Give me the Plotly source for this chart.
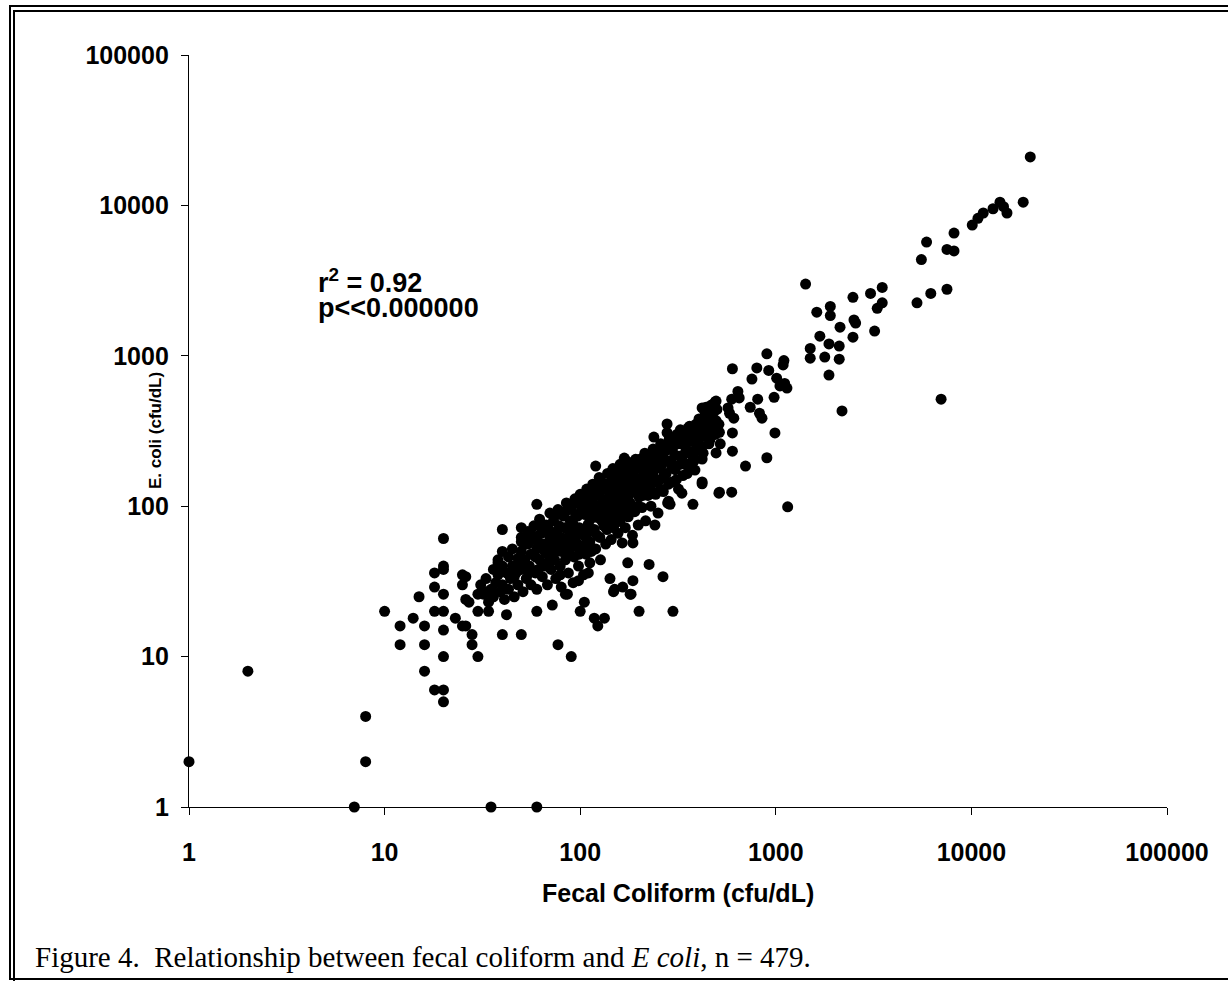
import plotly.graph_objects as go

# ---------------- data (Fecal coliform, E. coli; cfu/dL) ----------------
# low / left scattered points
fc_low = [1, 2, 7, 8, 8, 35, 60,
          10, 12, 12, 14, 15, 16, 16, 16, 18, 18, 18, 18,
          20, 20, 20, 20, 20, 20, 20, 20, 20,
          25, 25, 26, 27, 23, 25, 28, 28, 30, 30, 30,
          40, 50, 77, 90, 123, 118, 133, 100, 105, 200, 298,
          180, 186, 148, 265, 225, 175, 142, 72, 84, 60, 42, 34, 26]
ec_low = [2, 8, 1, 4, 2, 1, 1,
          20, 16, 12, 18, 25, 16, 12, 8, 36, 29, 20, 6,
          61, 40, 38, 26, 20, 15, 10, 6, 5,
          35, 30, 24, 23, 18, 16, 14, 12, 10, 20, 26,
          14, 14, 12, 10, 16, 18, 18, 20, 23, 20, 20,
          26, 32, 27, 34, 41, 42, 33, 22, 26, 20, 19, 20, 16]

# points around the edge of the main cloud
fc_edge = [60, 40, 50, 55, 50, 40, 26, 33, 38,
           120, 168, 238, 278, 278, 356, 325, 420, 490, 445, 460, 420, 377,
           340, 386, 420, 512, 377, 331, 288, 283, 241, 150, 182, 165, 110,
           86, 98, 186, 164]
ec_edge = [103, 70, 72, 61, 58, 50, 34, 27, 42,
           185, 209, 288, 352, 308, 331, 322, 450, 493, 357, 275, 206, 226,
           191, 174, 145, 122, 103, 122, 103, 108, 75, 28, 26, 29, 36,
           26, 32, 57, 57]

# dense central cloud
fc_core = [31, 32, 33, 34, 35, 36, 36, 37,
           38, 38, 39, 40, 40, 41, 42, 43, 43, 44, 45, 45, 46,
           47, 48, 48, 50, 50, 50, 51, 52, 53, 54, 54, 55, 56, 56,
           58, 58, 59, 60, 60, 62, 62, 63, 64, 65, 66, 67, 68, 68,
           70, 70, 71, 72, 73, 74, 75, 76, 77, 78, 79, 80, 80,
           82, 83, 84, 85, 86, 87, 88, 89, 90, 91, 92, 93, 94, 95,
           97, 98, 99, 100, 101, 102, 104, 105, 106, 107, 108, 110, 111, 112, 112,
           115, 116, 118, 120, 121, 123, 125, 126, 127, 128, 130, 132, 134, 135,
           138, 139, 140, 142, 144, 145, 147, 148, 150, 152, 154, 156, 158, 160, 160,
           163, 165, 167, 170, 172, 174, 176, 178, 180, 183, 185, 187, 190, 192, 195, 198, 200,
           204, 207, 210, 214, 216, 220, 222, 226, 230, 233, 236, 240, 243, 247, 250,
           255, 258, 262, 266, 270, 275, 280, 285, 290, 295, 300, 306, 312, 318, 322, 328,
           335, 342, 348, 355, 362, 370, 378, 385, 395, 405, 412, 425, 435, 445, 455,
           468, 478, 490, 500, 512, 520]
ec_core = [30, 26, 33, 23, 28, 38, 25, 31,
           44, 35, 27, 40, 30, 24, 36, 46, 28, 33, 52, 40, 25,
           36, 45, 30, 62, 50, 38, 27, 44, 33, 68, 56, 40, 30, 48,
           74, 60, 36, 52, 28, 82, 44, 66, 34, 56, 40, 75, 30, 48,
           90, 62, 38, 54, 80, 44, 33, 68, 95, 58, 40, 50, 29,
           86, 72, 44, 105, 60, 36, 52, 80, 95, 66, 31, 46, 112, 58,
           86, 40, 72, 120, 54, 100, 35, 64, 88, 48, 130, 76, 110, 42, 58,
           96, 140, 70, 52, 118, 84, 155, 62, 44, 102, 130, 74, 90, 56,
           165, 112, 80, 140, 60, 100, 178, 72, 125, 88, 150, 66, 108, 190, 80,
           132, 96, 162, 72, 115, 198, 85, 140, 105, 170, 64, 125, 92, 205, 150, 75, 115,
           180, 98, 135, 225, 80, 160, 118, 195, 100, 145, 240, 175, 120, 210, 90,
           150, 260, 190, 125, 230, 165, 105, 280, 200, 145, 250, 175, 300, 130, 215, 260,
           160, 300, 240, 190, 340, 270, 210, 320, 250, 380, 290, 225, 420, 330, 260,
           470, 380, 300, 440, 350, 260]

# more points inside the dense cloud
fc_core2 = [46, 49, 52, 55, 57, 59, 61, 61,
            64, 66, 69, 69, 72, 74, 75, 78, 79, 80,
            83, 84, 86, 88, 90, 92, 93, 95, 96, 98, 99,
            101, 103, 104, 106, 108, 109, 111, 113, 114, 117, 119, 120, 122, 124, 125,
            128, 129, 131, 133, 136, 137, 141, 143, 146, 149, 151, 153, 155, 157, 159,
            162, 164, 166, 169, 171, 173, 177, 179, 181, 184, 188, 191, 194, 197, 199,
            202, 206, 209, 212, 218, 221, 224, 228, 232, 235, 239, 244, 249, 252, 257,
            263, 268, 272, 278, 283, 288, 294, 298, 304, 310, 316, 324, 330, 338,
            345, 352, 360, 368, 375, 382, 390, 400, 410, 420, 430, 440, 452, 465, 480, 495]
ec_core2 = [34, 42, 56, 36, 64, 46, 58, 38,
            72, 50, 42, 70, 60, 86, 50, 74, 35, 62,
            56, 92, 48, 68, 102, 76, 54, 86, 64, 104, 48,
            92, 70, 112, 56, 96, 66, 124, 82, 50, 104, 88, 128, 64, 98, 120,
            146, 80, 110, 96, 140, 70, 122, 92, 155, 112, 140, 78, 172, 124, 96,
            150, 110, 182, 130, 88, 160, 118, 185, 145, 98, 160, 128, 180, 100, 140,
            205, 155, 118, 190, 140, 205, 175, 130, 220, 160, 200, 145, 235, 180, 130,
            220, 160, 250, 200, 140, 240, 180, 280, 220, 150, 260, 190, 290, 220,
            270, 165, 300, 230, 290, 200, 350, 270, 320, 250, 360, 300, 400, 330, 420, 370]

# upper band
fc_high = [2180, 1870, 1500, 1500, 1680, 1870, 1780, 2110, 2110, 1620, 1900, 1900,
           2130, 2510, 2560, 2480, 3200, 3300, 3500, 2480, 600, 900, 1100, 1090,
           800, 755, 920, 1010, 1050, 1140, 980, 808, 740, 825, 850, 990, 900, 700,
           600, 495, 515, 595, 420, 595, 640, 650, 495, 440, 570, 580, 610, 440,
           460, 475, 515, 600, 495, 450, 1110, 1420, 1150,
           20000, 18400, 15200, 14000, 14600, 12900, 11500, 10800, 10100, 8150,
           7500, 8150, 5900, 5550, 5270, 6200, 7500, 7000, 3050, 3500]
ec_high = [430, 745, 965, 1120, 1350, 1200, 980, 1160, 950, 1950, 2130, 1850,
           1550, 1730, 1650, 1330, 1460, 2070, 2250, 2450, 820, 1030, 930, 870,
           830, 700, 800, 710, 630, 610, 530, 515, 455, 415, 385, 307, 210, 185,
           232, 226, 124, 124, 141, 515, 580, 525, 500, 455, 450, 415, 385, 385,
           330, 307, 310, 307, 330, 288, 655, 3000, 99,
           21000, 10500, 8900, 10500, 9800, 9500, 8900, 8200, 7400, 6550,
           5100, 4980, 5700, 4360, 2250, 2600, 2770, 515, 2600, 2850]

tick_vals = [1, 10, 100, 1000, 10000, 100000]
tick_text = ["1", "10", "100", "1000", "10000", "100000"]

fc = fc_low + fc_edge + fc_core + fc_core2 + fc_high
ec = ec_low + ec_edge + ec_core + ec_core2 + ec_high

# ---------------- figure ----------------
W, H = 1228, 981
L, R, T, B = 189, 1167, 55, 807   # plot-area pixel box


def px(x):
    return (x - L) / (R - L)


def py(y):
    return (B - y) / (B - T)


SANS = "Liberation Sans, Arial, sans-serif"
SERIF = "Liberation Serif, Times New Roman, serif"

fig = go.Figure(go.Scatter(
    x=fc, y=ec, mode="markers",
    marker=dict(color="black", size=11, line=dict(width=0)),
    cliponaxis=False, showlegend=False, hoverinfo="skip",
))

axis_common = dict(
    type="log", range=[0, 5], tickvals=tick_vals, ticktext=tick_text,
    showgrid=False, zeroline=False, showline=True, linecolor="black",
    linewidth=1.3, ticks="outside", ticklen=7, tickwidth=1.3, tickcolor="black",
    tickfont=dict(family=SANS, size=25, color="black", weight="bold"),
    mirror=False,
)

fig.update_xaxes(**axis_common, ticklabelstandoff=16)
fig.update_yaxes(**axis_common, ticklabelstandoff=7)

annotations = [
    dict(text="r<sup>2</sup> = 0.92", x=px(316), y=py(300), xanchor="left", yanchor="bottom",
         font=dict(family=SANS, size=27, color="black", weight="bold")),
    dict(text="p<<0.000000", x=px(316), y=py(291), xanchor="left", yanchor="top",
         font=dict(family=SANS, size=27, color="black", weight="bold")),
    dict(text="Fecal Coliform (cfu/dL)", x=0.5, y=py(893), xanchor="center", yanchor="middle",
         font=dict(family=SANS, size=25, color="black", weight="bold")),
    dict(text="E. coli (cfu/dL)", x=px(155), y=py(431), xanchor="center", yanchor="middle",
         textangle=-90, font=dict(family=SANS, size=17, color="black", weight="bold")),
    dict(text="Figure 4.\u00a0 Relationship between fecal coliform and <i>E coli</i>, n = 479.",
         x=px(33), y=py(957), xanchor="left", yanchor="middle",
         font=dict(family=SERIF, size=29, color="black")),
]
for a in annotations:
    a.update(xref="paper", yref="paper", showarrow=False)

shapes = [
    dict(type="rect", x0=px(10), x1=px(1240), y0=py(979), y1=py(6),
         line=dict(color="black", width=2)),
    dict(type="rect", x0=px(14), x1=px(1236), y0=py(990), y1=py(11),
         line=dict(color="black", width=2)),
]
for s in shapes:
    s.update(xref="paper", yref="paper", fillcolor="rgba(0,0,0,0)", layer="above")

fig.update_layout(
    width=W, height=H,
    margin=dict(l=L, r=W - R, t=T, b=H - B, pad=0),
    paper_bgcolor="white", plot_bgcolor="white",
    annotations=annotations, shapes=shapes,
)

fig.write_html("out.html", config={"displayModeBar": False},
               post_script="document.body.style.margin='0px';")
